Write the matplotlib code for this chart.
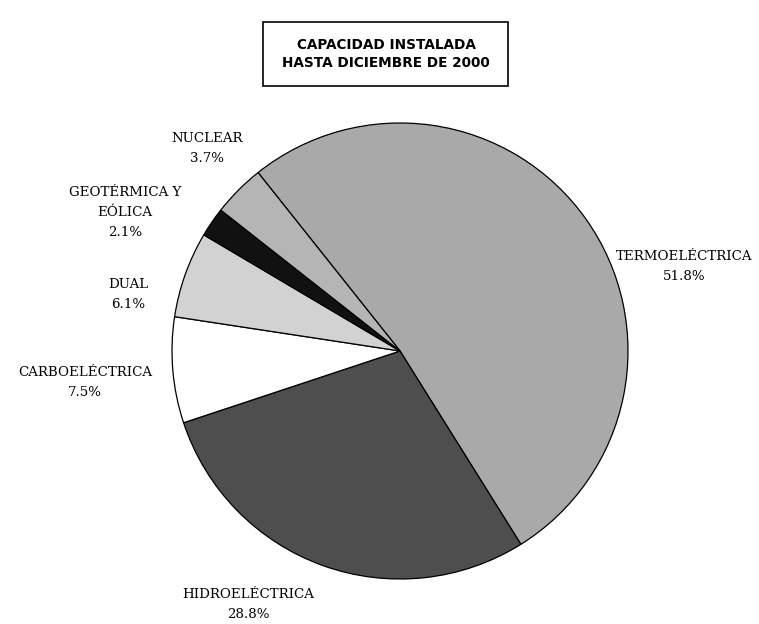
import matplotlib.pyplot as plt
from matplotlib.patches import Rectangle

# datos de capacidad instalada (%)
fuentes = ["TERMOELÉCTRICA", "HIDROELÉCTRICA", "CARBOELÉCTRICA", "DUAL",
           "GEOTÉRMICA Y\nEÓLICA", "NUCLEAR"]
porcentajes = [51.8, 28.8, 7.5, 6.1, 2.1, 3.7]
colores = ["#a9a9a9", "#4e4e4e", "#ffffff", "#d2d2d2", "#111111", "#b5b5b5"]
# posición de cada etiqueta (pixeles de la imagen)
pos_etiquetas = [(684, 267), (248, 604), (85, 383), (128, 294), (125, 212), (207, 148)]

W, H = 759, 624
fig = plt.figure(figsize=(W / 100, H / 100), dpi=100)
ax = fig.add_axes([0, 0, 1, 1])
ax.set_xlim(0, W)
ax.set_ylim(0, H)
ax.set_aspect("equal")
ax.axis("off")

# gráfico de pastel
ax.pie(porcentajes, colors=colores, startangle=128.5, counterclock=False,
       center=(400, H - 351), radius=228,
       wedgeprops=dict(edgecolor="black", linewidth=0.9))
ax.set_xlim(0, W)
ax.set_ylim(0, H)

# etiquetas
for nombre, valor, (x, y) in zip(fuentes, porcentajes, pos_etiquetas):
    ax.text(x, H - y, f"{nombre}\n{valor}%", ha="center", va="center",
            family="DejaVu Serif", fontsize=9.6, linespacing=1.7)

# título en recuadro
ax.add_patch(Rectangle((263, H - 86), 245, 64, facecolor="white",
                       edgecolor="black", linewidth=1.2))
ax.text(386, H - 54, "CAPACIDAD INSTALADA\nHASTA DICIEMBRE DE 2000",
        ha="center", va="center", family="DejaVu Sans", fontsize=9.8,
        fontweight="semibold", linespacing=1.45)

plt.savefig("out.png", dpi=100)
